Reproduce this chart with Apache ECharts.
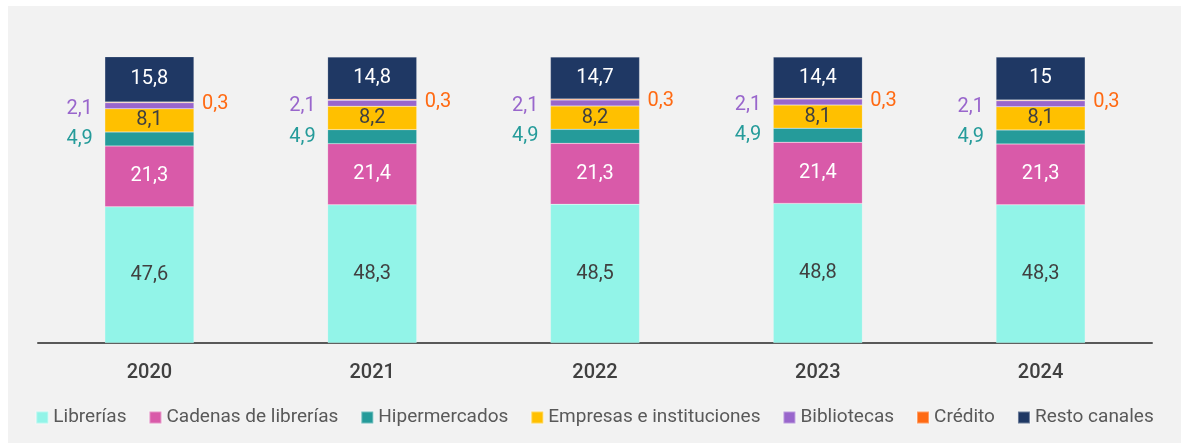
<!DOCTYPE html>
<html>
<head>
<meta charset="utf-8">
<script src="https://cdn.jsdelivr.net/npm/echarts@6/dist/echarts.min.js"></script>
<style>
  html, body { margin: 0; padding: 0; background: #fff; }
  #chart { position: absolute; left: 8px; top: 6px; width: 1173px; height: 437px; background: #f2f2f2; }
</style>
</head>
<body>
<div id="chart"></div>
<script>
const years = ['2020', '2021', '2022', '2023', '2024']
const librerias = [47.6, 48.3, 48.5, 48.8, 48.3]
const cadenas = [21.3, 21.4, 21.3, 21.4, 21.3]
const hipermercados = [4.9, 4.9, 4.9, 4.9, 4.9]
const empresas = [8.1, 8.2, 8.2, 8.1, 8.1]
const bibliotecas = [2.1, 2.1, 2.1, 2.1, 2.1]
const credito = [0.3, 0.3, 0.3, 0.3, 0.3]
const resto = [15.8, 14.8, 14.7, 14.4, 15]

const fmt = p => String(p.value).replace('.', ',')

function seg(name, data, color, label) {
  return {
    name: name,
    type: 'bar',
    stack: 'total',
    barWidth: '40%',
    data: data,
    itemStyle: { color: color, borderColor: 'rgba(255,255,255,0.35)', borderWidth: 0.5 },
    label: Object.assign({ show: true, formatter: fmt, fontSize: 20, fontFamily: 'Roboto' }, label),
    emphasis: { disabled: true },
    animation: false
  }
}

const chart = echarts.init(document.getElementById('chart'))
chart.setOption({
  backgroundColor: '#f2f2f2',
  textStyle: { fontFamily: 'Roboto' },
  grid: { left: 30, right: 29, top: 51, bottom: 100 },
  legend: {
    bottom: 11,
    left: 'center',
    itemWidth: 12,
    itemHeight: 12,
    itemGap: 22,
    icon: 'rect',
    textStyle: { color: '#595959', fontSize: 19, fontFamily: 'Roboto' }
  },
  xAxis: {
    type: 'category',
    data: years,
    axisLine: { lineStyle: { color: '#595959', width: 2 } },
    axisTick: { show: false },
    axisLabel: { color: '#404040', fontSize: 20, fontWeight: 500, margin: 20 }
  },
  yAxis: { type: 'value', min: 0, max: 100, show: false },
  series: [
    seg('Librerías', librerias, '#92f4e8', { position: 'inside', color: '#404040' }),
    seg('Cadenas de librerías', cadenas, '#d95aa9', { position: 'inside', color: '#fff' }),
    seg('Hipermercados', hipermercados, '#259b9a', { position: 'left', distance: 12, color: '#259b9a' }),
    seg('Empresas e instituciones', empresas, '#ffc000', { position: 'inside', color: '#404040' }),
    seg('Bibliotecas', bibliotecas, '#9966cc', { position: 'left', distance: 12, color: '#9966cc', offset: [0, 3] }),
    seg('Crédito', credito, '#ff6a13', { position: 'right', distance: 8, color: '#ff6a13', offset: [0, 2] }),
    seg('Resto canales', resto, '#1f3864', { position: 'inside', color: '#fff' })
  ]
})
</script>
</body>
</html>
